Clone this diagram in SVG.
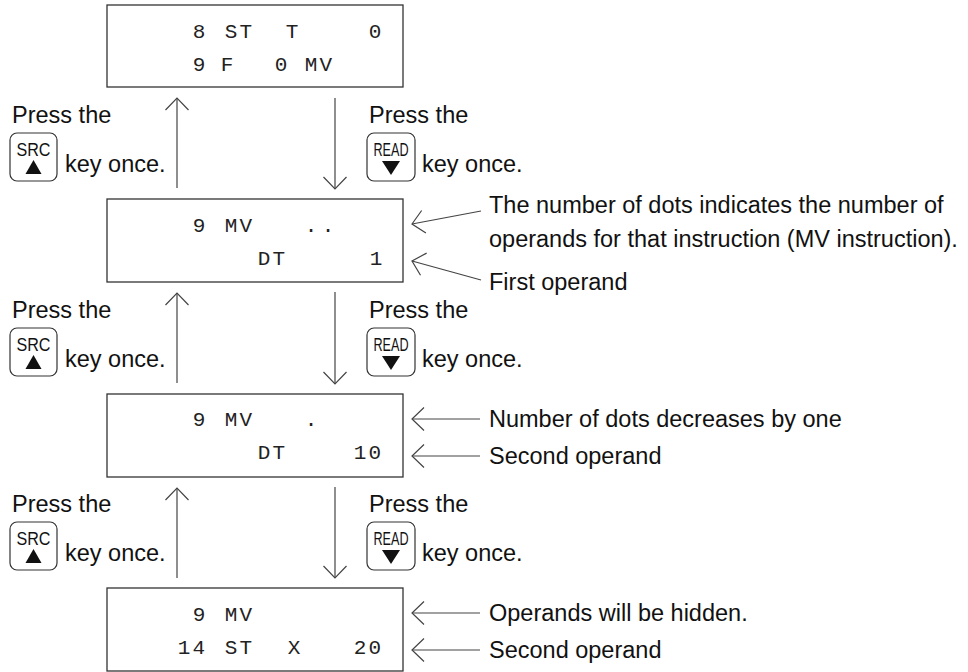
<svg xmlns="http://www.w3.org/2000/svg" width="968" height="672" viewBox="0 0 968 672">
<style>
.box{fill:#fff;stroke:#333;stroke-width:1.3}
.mono{font-family:"Liberation Mono","DejaVu Sans Mono",monospace;font-size:21px;fill:#222;letter-spacing:2.1px}
.lbl{font-family:"Liberation Sans",Arial,sans-serif;font-size:23.5px;fill:#111}
.key{fill:#fff;stroke:#333;stroke-width:1.2}
.keyt{font-family:"Liberation Sans",Arial,sans-serif;font-size:18px;fill:#111;text-anchor:middle}
.tri{fill:#111}
.con{fill:none;stroke:#444;stroke-width:1.2}
</style>
<defs>
<marker id="v" markerUnits="userSpaceOnUse" markerWidth="30" markerHeight="30" viewBox="-15 -15 30 30" refX="0" refY="0" orient="auto" overflow="visible">
<path d="M-12,-11.5 L0,0 L-12,11.5" fill="none" stroke="#444" stroke-width="1.2"/>
</marker>
</defs>

<g id="connectors">
<line class="con" x1="177" y1="188" x2="177" y2="98" marker-end="url(#v)"/>
<line class="con" x1="335" y1="98" x2="335" y2="189" marker-end="url(#v)"/>
<line class="con" x1="177" y1="383" x2="177" y2="293" marker-end="url(#v)"/>
<line class="con" x1="335" y1="292" x2="335" y2="384" marker-end="url(#v)"/>
<line class="con" x1="177" y1="578" x2="177" y2="488" marker-end="url(#v)"/>
<line class="con" x1="335" y1="487" x2="335" y2="578" marker-end="url(#v)"/>
<line class="con" x1="481" y1="211" x2="412" y2="224" marker-end="url(#v)"/>
<line class="con" x1="481" y1="280" x2="412" y2="261" marker-end="url(#v)"/>
<line class="con" x1="480" y1="419" x2="412" y2="419" marker-end="url(#v)"/>
<line class="con" x1="480" y1="456" x2="412" y2="456" marker-end="url(#v)"/>
<line class="con" x1="480" y1="613" x2="412" y2="613" marker-end="url(#v)"/>
<line class="con" x1="480" y1="650" x2="412" y2="650" marker-end="url(#v)"/>
</g>

<g id="box1">
<rect class="box" x="107" y="5" width="296" height="82"/>
<text class="mono" x="192.7" y="38">8</text>
<text class="mono" x="224.7" y="38">ST</text>
<text class="mono" x="285.7" y="38">T</text>
<text class="mono" x="368.7" y="38">0</text>
<text class="mono" x="192.7" y="71">9</text>
<text class="mono" x="220.7" y="71">F</text>
<text class="mono" x="274.7" y="71">0</text>
<text class="mono" x="304.7" y="71">MV</text>
</g>

<g id="box2">
<rect class="box" x="107" y="199" width="296" height="83"/>
<text class="mono" x="192.7" y="232">9</text>
<text class="mono" x="224.7" y="232">MV</text>
<text class="mono" x="304.7" y="232">.</text>
<text class="mono" x="321.7" y="232">.</text>
<text class="mono" x="257.7" y="265">DT</text>
<text class="mono" x="369.7" y="265">1</text>
</g>

<g id="box3">
<rect class="box" x="107" y="394" width="296" height="83"/>
<text class="mono" x="192.7" y="426">9</text>
<text class="mono" x="224.7" y="426">MV</text>
<text class="mono" x="304.7" y="426">.</text>
<text class="mono" x="257.7" y="459">DT</text>
<text class="mono" x="353.7" y="459">10</text>
</g>

<g id="box4">
<rect class="box" x="107" y="588" width="296" height="83"/>
<text class="mono" x="192.7" y="621">9</text>
<text class="mono" x="224.7" y="621">MV</text>
<text class="mono" x="177.7" y="654">14</text>
<text class="mono" x="224.7" y="654">ST</text>
<text class="mono" x="287.7" y="654">X</text>
<text class="mono" x="353.7" y="654">20</text>
</g>

<g id="src1">
<text class="lbl" x="12" y="123">Press the</text>
<rect class="key" x="10" y="133" width="47" height="48" rx="7"/>
<text class="keyt" x="33.5" y="156" textLength="34" lengthAdjust="spacingAndGlyphs">SRC</text>
<polygon class="tri" points="33.5,160 25.5,174 41.5,174"/>
<text class="lbl" x="65" y="172">key once.</text>
</g>
<g id="read1">
<text class="lbl" x="369" y="123">Press the</text>
<rect class="key" x="367" y="133" width="48" height="48" rx="7"/>
<text class="keyt" x="391" y="156" textLength="35" lengthAdjust="spacingAndGlyphs">READ</text>
<polygon class="tri" points="382,161 400,161 391,175"/>
<text class="lbl" x="422" y="172">key once.</text>
</g>

<g id="src2">
<text class="lbl" x="12" y="318">Press the</text>
<rect class="key" x="10" y="328" width="47" height="48" rx="7"/>
<text class="keyt" x="33.5" y="351" textLength="34" lengthAdjust="spacingAndGlyphs">SRC</text>
<polygon class="tri" points="33.5,355 25.5,369 41.5,369"/>
<text class="lbl" x="65" y="367">key once.</text>
</g>
<g id="read2">
<text class="lbl" x="369" y="318">Press the</text>
<rect class="key" x="367" y="328" width="48" height="48" rx="7"/>
<text class="keyt" x="391" y="351" textLength="35" lengthAdjust="spacingAndGlyphs">READ</text>
<polygon class="tri" points="382,356 400,356 391,370"/>
<text class="lbl" x="422" y="367">key once.</text>
</g>

<g id="src3">
<text class="lbl" x="12" y="512">Press the</text>
<rect class="key" x="10" y="522" width="47" height="48" rx="7"/>
<text class="keyt" x="33.5" y="545" textLength="34" lengthAdjust="spacingAndGlyphs">SRC</text>
<polygon class="tri" points="33.5,549 25.5,563 41.5,563"/>
<text class="lbl" x="65" y="561">key once.</text>
</g>
<g id="read3">
<text class="lbl" x="369" y="512">Press the</text>
<rect class="key" x="367" y="522" width="48" height="48" rx="7"/>
<text class="keyt" x="391" y="545" textLength="35" lengthAdjust="spacingAndGlyphs">READ</text>
<polygon class="tri" points="382,550 400,550 391,564"/>
<text class="lbl" x="422" y="561">key once.</text>
</g>

<g id="notes2">
<text class="lbl" x="489" y="213">The number of dots indicates the number of</text>
<text class="lbl" x="489" y="247">operands for that instruction (MV instruction).</text>
<text class="lbl" x="489" y="290">First operand</text>
</g>
<g id="notes3">
<text class="lbl" x="489" y="427">Number of dots decreases by one</text>
<text class="lbl" x="489" y="464">Second operand</text>
</g>
<g id="notes4">
<text class="lbl" x="489" y="621">Operands will be hidden.</text>
<text class="lbl" x="489" y="658">Second operand</text>
</g>
</svg>
